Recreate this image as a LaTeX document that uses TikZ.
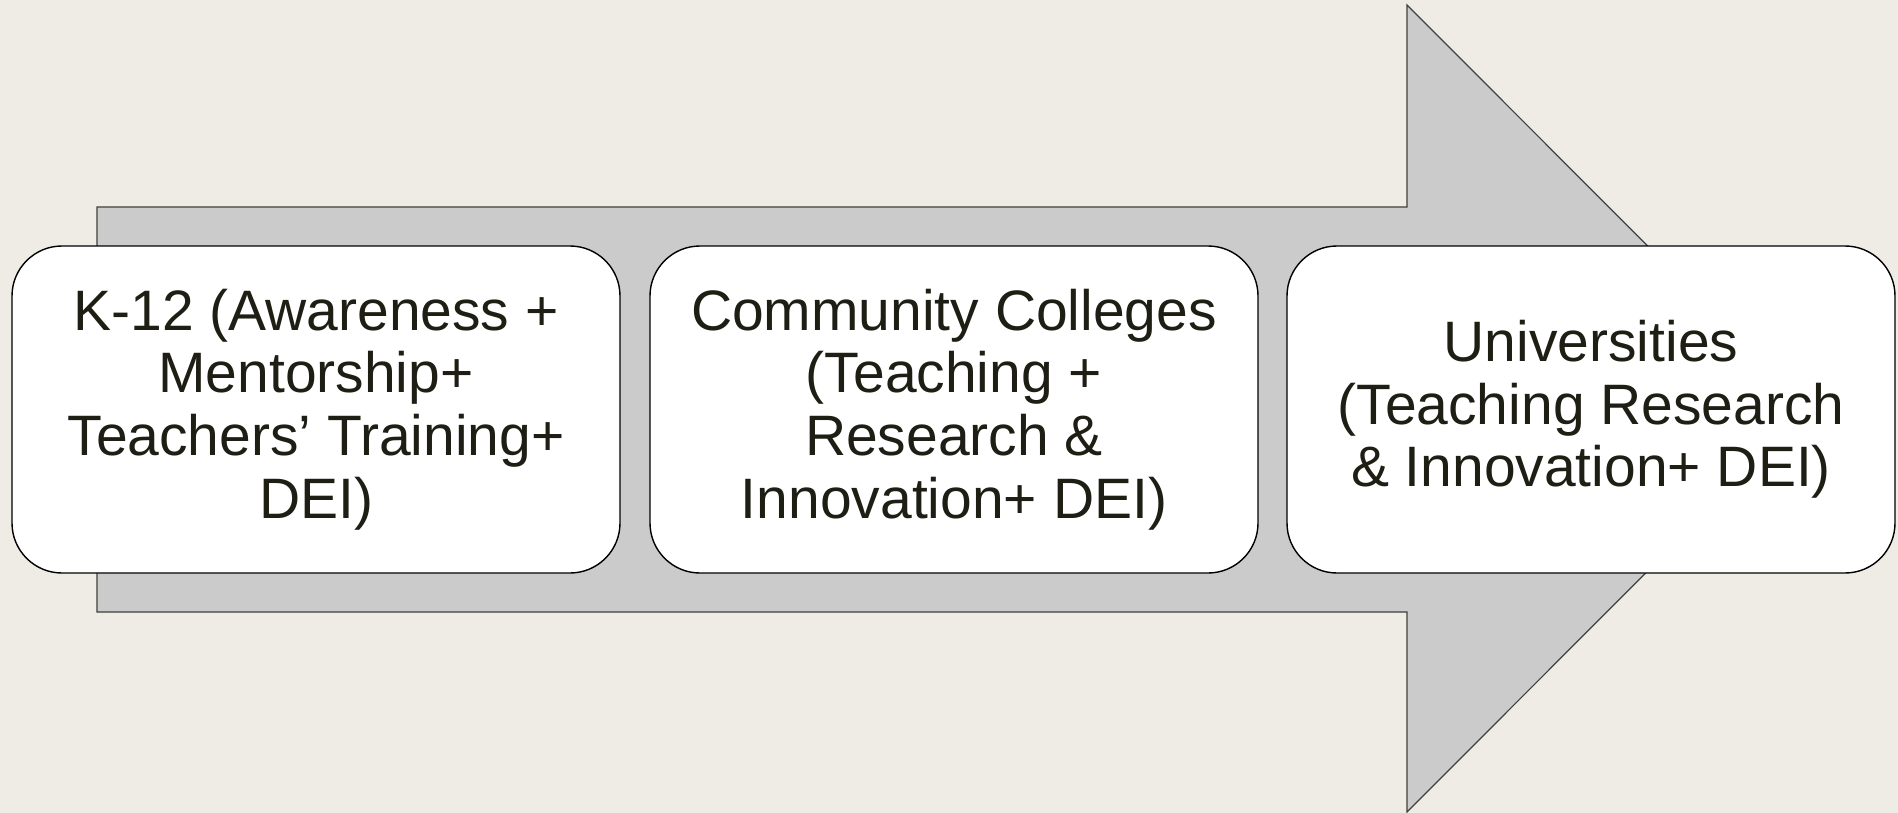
\documentclass[tikz,border=0pt]{standalone}
\usepackage{fontspec}
\setmainfont{Liberation Sans}
\definecolor{bgc}{RGB}{238,236,228}
\definecolor{arrowfill}{RGB}{203,203,203}
\definecolor{arrowline}{RGB}{64,64,60}
\definecolor{txt}{RGB}{30,30,20}
\begin{document}
\begin{tikzpicture}[x=1pt,y=-1pt,
  stagebox/.style={draw=black, line width=1.4pt, fill=white, rounded corners=50pt,
    minimum width=608pt, minimum height=327pt, align=center, text=txt,
    font=\fontsize{57}{62.6}\selectfont, inner sep=0pt}]
\fill[bgc] (0,0) rectangle (1898,813);
\useasboundingbox (0,0) rectangle (1898,813);
\draw[fill=arrowfill, draw=arrowline, line width=1.2pt]
  (97,207) -- (1407,207) -- (1407,5) -- (1810,408.5) -- (1407,812) -- (1407,612) -- (97,612) -- cycle;
\node[stagebox] (k12) at (316,409.5) {K-12 (Awareness +\\Mentorship+\\Teachers’ Training+\\DEI)};
\node[stagebox] (cc) at (954,409.5) {Community Colleges\\(Teaching +\\Research \&\\Innovation+ DEI)};
\node[stagebox] (uni) at (1591,409.5) {Universities\\(Teaching Research\\\& Innovation+ DEI)};
\end{tikzpicture}
\end{document}
